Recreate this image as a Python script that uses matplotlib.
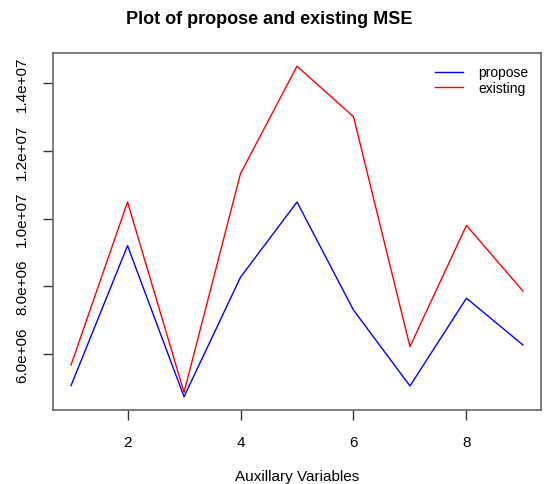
import numpy as np
import matplotlib.pyplot as plt

plt.rcParams['font.family'] = ['Liberation Sans', 'DejaVu Sans']

aux_vars = np.arange(1, 10)
propose = [5.07e6, 9.20e6, 4.74e6, 8.27e6, 1.049e7, 7.30e6, 5.06e6, 7.65e6, 6.27e6]
existing = [5.68e6, 1.049e7, 4.87e6, 1.133e7, 1.450e7, 1.301e7, 6.22e6, 9.80e6, 7.86e6]

fig = plt.figure(figsize=(5.45, 4.85), dpi=100)
ax = fig.add_axes([0.0972, 0.1526, 0.8955, 0.7361])

ax.plot(aux_vars, propose, color='blue', lw=1.0, label='propose')
ax.plot(aux_vars, existing, color='red', lw=1.0, label='existing')

ymin, ymax = min(propose + existing), max(propose + existing)
pad = (ymax - ymin) * 0.04
ax.set_ylim(ymin - pad, ymax + pad)
ax.set_xlim(1 - 0.32, 9 + 0.32)

ax.set_xticks([2, 4, 6, 8])
ax.set_yticks([6e6, 8e6, 1e7, 1.2e7, 1.4e7])
ax.set_yticklabels(['6.0e+06', '8.0e+06', '1.0e+07', '1.2e+07', '1.4e+07'],
                   rotation=90, va='center')
ax.tick_params(direction='out', length=7, width=1, colors='#333333',
               labelsize=11, labelcolor='black')
ax.tick_params(axis='x', pad=11)
ax.tick_params(axis='y', pad=10)
for s in ax.spines.values():
    s.set_color('#666666')
    s.set_linewidth(1.2)

fig.text(269 / 545, 1 - 19 / 485, 'Plot of propose and existing MSE',
         fontsize=13, fontweight='bold', ha='center', va='center')
fig.text(297 / 545, 1 - 477 / 485, 'Auxillary Variables',
         fontsize=11, ha='center', va='center')

ax.legend(loc='upper right', frameon=False, fontsize=10, handlelength=2.0,
          handletextpad=1.1, labelspacing=0.1, borderaxespad=0.5)

plt.savefig('out.png', dpi=100)
